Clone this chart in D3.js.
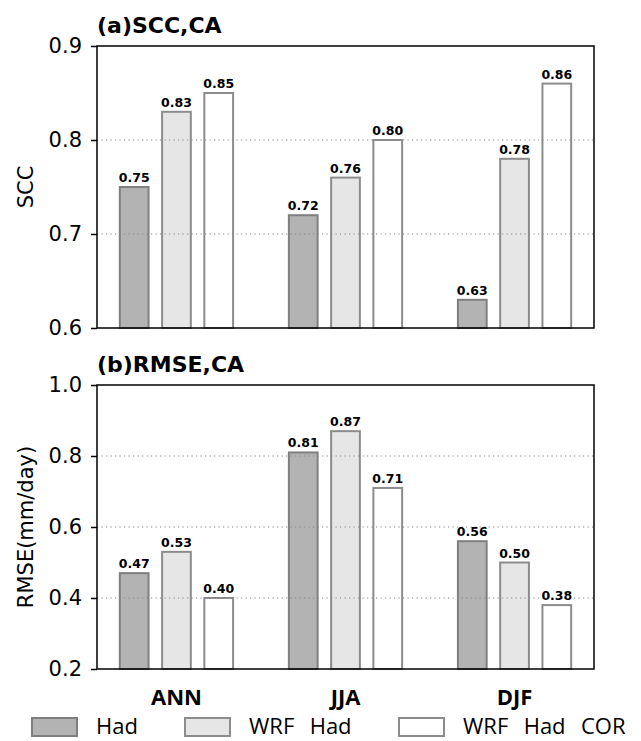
<!DOCTYPE html>
<html>
<head>
<meta charset="utf-8">
<script src="https://cdn.jsdelivr.net/npm/d3@7"></script>
<style>
  body { margin: 0; background: #fff; }
  .axis text { font-family: "DejaVu Sans"; font-size: 21px; fill: #000; }
  .axis path, .axis line { stroke: #000; stroke-width: 1.5; }
  .grid { stroke: #888; stroke-width: 1.2; stroke-dasharray: 1.2, 3.3; }
  .val { font-family: "DejaVu Sans"; font-weight: bold; font-size: 12.5px; text-anchor: middle; }
  .title { font-family: "DejaVu Sans"; font-weight: bold; font-size: 22px; }
  .ylab { font-family: "DejaVu Sans"; font-size: 21px; text-anchor: middle; }
  .cat { font-family: "Open Sans"; font-weight: bold; font-size: 22px; text-anchor: middle; }
  .leg { font-family: "Open Sans"; font-size: 22px; white-space: pre; word-spacing: 2px; }
</style>
</head>
<body>
<script>
var w = 641;
var h = 741;

var seasons = ["ANN", "JJA", "DJF"];
var series = ["Had", "WRF  Had", "WRF  Had  COR"];
var fills = ["#b3b3b3", "#e6e6e6", "#ffffff"];
var strokes = ["#7f7f7f", "#8c8c8c", "#8c8c8c"];

// values per series, in season order
var sccHad = [0.75, 0.72, 0.63];
var sccWrf = [0.83, 0.76, 0.78];
var sccCor = [0.85, 0.80, 0.86];
var rmseHad = [0.47, 0.81, 0.56];
var rmseWrf = [0.53, 0.87, 0.50];
var rmseCor = [0.40, 0.71, 0.38];

var sccTicks = [0.6, 0.7, 0.8, 0.9];
var rmseTicks = [0.2, 0.4, 0.6, 0.8, 1.0];

var left = 97, right = 594;
var barStep = 0.25, barWidth = 0.17;

var svg = d3.select("body").append("svg")
  .attr("width", w)
  .attr("height", h);

var xScale = d3.scaleLinear()
  .domain([-0.47, 2.47])
  .range([left, right]);

function drawPanel(top, bottom, ydom, ticks, data, title, ylab, showCats) {
  var yScale = d3.scaleLinear().domain(ydom).range([bottom, top]);
  var g = svg.append("g");

  var rows = [];
  data.forEach(function(vals, s) {
    vals.forEach(function(v, i) {
      rows.push({ s: s, i: i, v: v });
    });
  });

  g.selectAll("rect.bar")
    .data(rows)
    .enter().append("rect")
    .attr("class", "bar")
    .attr("x", function(d) { return xScale(d.i + (d.s - 1) * barStep - barWidth / 2); })
    .attr("width", xScale(barWidth) - xScale(0))
    .attr("y", function(d) { return yScale(d.v); })
    .attr("height", function(d) { return bottom - yScale(d.v); })
    .attr("fill", function(d) { return fills[d.s]; })
    .attr("stroke", function(d) { return strokes[d.s]; })
    .attr("stroke-width", 2);

  // dotted grid over the bars
  g.selectAll("line.grid")
    .data(ticks.slice(1, -1))
    .enter().append("line")
    .attr("class", "grid")
    .attr("x1", left).attr("x2", right)
    .attr("y1", function(d) { return yScale(d); })
    .attr("y2", function(d) { return yScale(d); });

  g.selectAll("text.val")
    .data(rows)
    .enter().append("text")
    .attr("class", "val")
    .attr("x", function(d) { return xScale(d.i + (d.s - 1) * barStep); })
    .attr("y", function(d) { return yScale(d.v) - 5; })
    .text(function(d) { return d.v.toFixed(2); });

  g.append("g")
    .attr("class", "axis")
    .attr("transform", "translate(" + left + ",0)")
    .call(d3.axisLeft(yScale).tickValues(ticks).tickFormat(d3.format(".1f")).tickSize(6).tickPadding(9))
    .call(function(a) { a.select(".domain").remove(); });

  g.append("rect")
    .attr("x", left).attr("y", top)
    .attr("width", right - left).attr("height", bottom - top)
    .attr("fill", "none").attr("stroke", "#000").attr("stroke-width", 1.5);

  g.append("text")
    .attr("class", "title")
    .attr("x", left)
    .attr("y", top - 13)
    .text(title);

  g.append("text")
    .attr("class", "ylab")
    .attr("transform", "translate(33," + ((top + bottom) / 2) + ") rotate(-90)")
    .text(ylab);

  if (showCats) {
    g.selectAll("text.cat")
      .data(seasons)
      .enter().append("text")
      .attr("class", "cat")
      .attr("x", function(d, i) { return xScale(i); })
      .attr("y", bottom + 36)
      .text(function(d) { return d; });
  }
}

drawPanel(46, 328, [0.6, 0.9], sccTicks, [sccHad, sccWrf, sccCor], "(a)SCC,CA", "SCC", false);
drawPanel(385, 669, [0.2, 1.0], rmseTicks, [rmseHad, rmseWrf, rmseCor], "(b)RMSE,CA", "RMSE(mm/day)", true);

// legend
var legX = [32, 185, 399];
var leg = svg.append("g");
series.forEach(function(name, s) {
  leg.append("rect")
    .attr("x", legX[s]).attr("y", 718)
    .attr("width", 45).attr("height", 18)
    .attr("fill", fills[s]).attr("stroke", strokes[s]).attr("stroke-width", 2);
  leg.append("text")
    .attr("class", "leg")
    .attr("x", legX[s] + 64)
    .attr("y", 734)
    .text(name);
});
</script>
</body>
</html>
